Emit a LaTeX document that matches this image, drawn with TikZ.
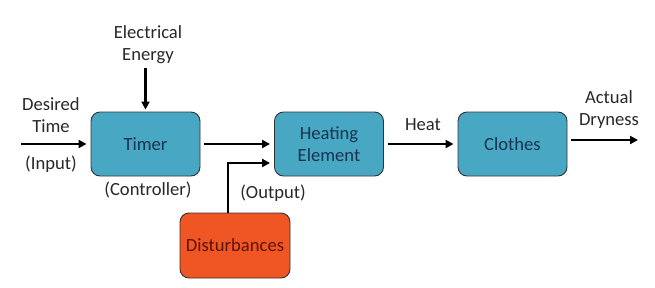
\documentclass[tikz,border=0pt]{standalone}
\usepackage{fontspec}
\setmainfont{Carlito}
\usepackage{tikz}
\usetikzlibrary{arrows.meta,positioning,calc}

\definecolor{boxblue}{RGB}{72,168,196}
\definecolor{boxred}{RGB}{240,86,36}
\definecolor{txtblue}{RGB}{24,52,80}
\definecolor{txtred}{RGB}{90,20,10}
\definecolor{labgray}{RGB}{40,40,40}

\begin{document}
\begin{tikzpicture}[x=1pt, y=-1pt,
		blk/.style={draw=black!80, fill=boxblue, rounded corners=9pt, line width=0.9pt,
			minimum width=109pt, minimum height=64pt, align=center, text=txtblue,
			font=\fontsize{18.6}{22}\selectfont},
		dblk/.style={blk, fill=boxred, text=txtred, minimum width=110pt, minimum height=65pt},
		lab/.style={align=center, text=labgray, font=\fontsize{18.6}{22}\selectfont},
		ar/.style={line width=2.6pt, -{Triangle[length=8pt,width=8pt]}}
		]
		\useasboundingbox (0,0) rectangle (655,287);
		\node[blk] (timer) at (145.5,144) {Timer};
		\node[blk] (heat) at (329,144) {Heating\\Element};
		\node[blk] (clothes) at (512.5,144) {Clothes};
		\node[dblk] (dist) at (235,245.5) {Disturbances};
		\node[lab] (elec) at (148,45) {Electrical\\Energy};
		\node[lab] (desired) at (51,115) {Desired\\Time};
		\node[lab] (input) at (51,164) {(Input)};
		\node[lab] (ctrl) at (148,190) {(Controller)};
		\node[lab] (outp) at (273,193) {(Output)};
		\node[lab] (heatlab) at (423,125) {Heat};
		\node[lab] (dry) at (609,110) {Actual\\Dryness};
		\coordinate (in) at (21,144);
		\coordinate (out) at (638,140);
		\draw[ar, shorten >=4pt] (in) -- (timer.west);
		\draw[ar, shorten >=2pt] (elec.south -| timer.north) -- (timer.north);
		\draw[ar, shorten <=4pt, shorten >=4pt] (timer.east) -- (heat.west);
		\draw[ar, shorten >=4pt] ([xshift=-7pt]dist.north) |- ([yshift=-19pt]heat.west);
		\draw[ar, shorten <=4pt, shorten >=4pt] (heat.east) -- (clothes.west);
		\draw[ar, shorten <=4pt] ([yshift=4pt]clothes.east) -- (out);
	\end{tikzpicture}
\end{document}
